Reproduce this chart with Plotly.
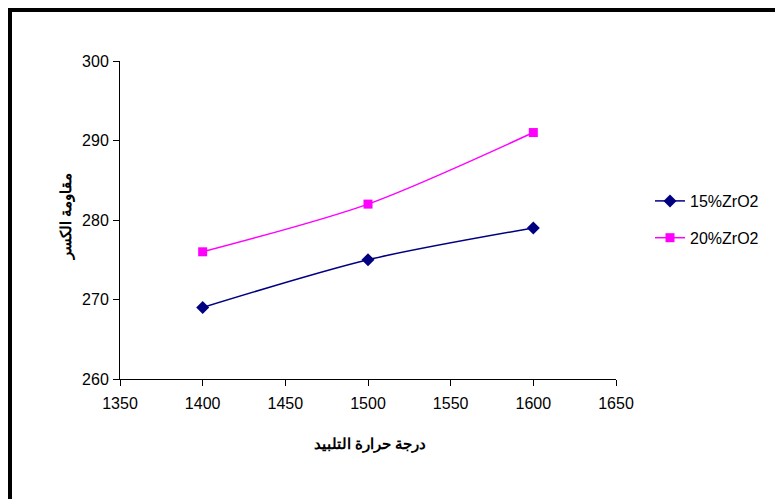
import plotly.graph_objects as go

temps = [1400, 1500, 1600]
zr15 = [269, 275, 279]
zr20 = [276, 282, 291]
names = ["15%ZrO2", "20%ZrO2"]
x_title = "درجة حرارة التلبيد"
y_title = "مقاومة الكسر"

# figure pixel coords (page has 8px body margin)
W, H = 775, 491
L, R, T, B = 112, 608, 53, 371

FONT = "Liberation Sans, Arial, sans-serif"

fig = go.Figure()
fig.add_trace(go.Scatter(x=temps, y=zr15, name=names[0], mode="lines+markers", legendgroup="a",
                         line=dict(color="#000080", width=1.5, shape="spline", smoothing=0.8),
                         marker=dict(symbol="diamond", size=10, color="#000080")))
fig.add_trace(go.Scatter(x=temps, y=zr20, name=names[1], mode="lines+markers", legendgroup="b",
                         line=dict(color="#FF00FF", width=1.5, shape="spline", smoothing=0.8),
                         marker=dict(symbol="square", size=9, color="#FF00FF")))

def px2u(px):
    return (px - L) / (R - L)

def py2v(py):
    return (B - py) / (B - T)

fig.add_shape(type="rect", xref="paper", yref="paper",
              x0=px2u(1), x1=px2u(820), y0=py2v(520), y1=py2v(1),
              line=dict(color="black", width=6), fillcolor="rgba(0,0,0,0)", layer="above")

fig.add_annotation(text=x_title, xref="paper", yref="paper", x=px2u(362), y=py2v(436),
                   xanchor="center", yanchor="middle", showarrow=False,
                   font=dict(family=FONT, size=15, color="black", weight="bold"))
fig.add_annotation(text=y_title, xref="paper", yref="paper", x=px2u(58), y=py2v(209),
                   xanchor="center", yanchor="middle", showarrow=False, textangle=-90,
                   font=dict(family=FONT, size=15, color="black", weight="bold"))

font = dict(family=FONT, size=16, color="black")
fig.update_layout(
    width=W, height=H,
    margin=dict(l=L, r=W - R, t=T, b=H - B),
    paper_bgcolor="white", plot_bgcolor="white",
    font=font,
    showlegend=True,
    legend=dict(x=px2u(642), y=py2v(176), xanchor="left", yanchor="top",
                font=dict(family=FONT, size=16, color="black"),
                traceorder="grouped", tracegroupgap=13, itemwidth=30,
                bgcolor="rgba(0,0,0,0)"),
    xaxis=dict(range=[1350, 1650], dtick=50, tick0=1350, showgrid=False, zeroline=False,
               showline=True, linecolor="black", linewidth=1, ticks="outside", ticklen=6,
               tickcolor="black", tickfont=font, ticklabelstandoff=4),
    yaxis=dict(range=[260, 300], dtick=10, showgrid=False, zeroline=False,
               showline=True, linecolor="black", linewidth=1, ticks="outside", ticklen=6,
               tickcolor="black", tickfont=font, ticklabelstandoff=1),
)

fig.write_html("out.html")
